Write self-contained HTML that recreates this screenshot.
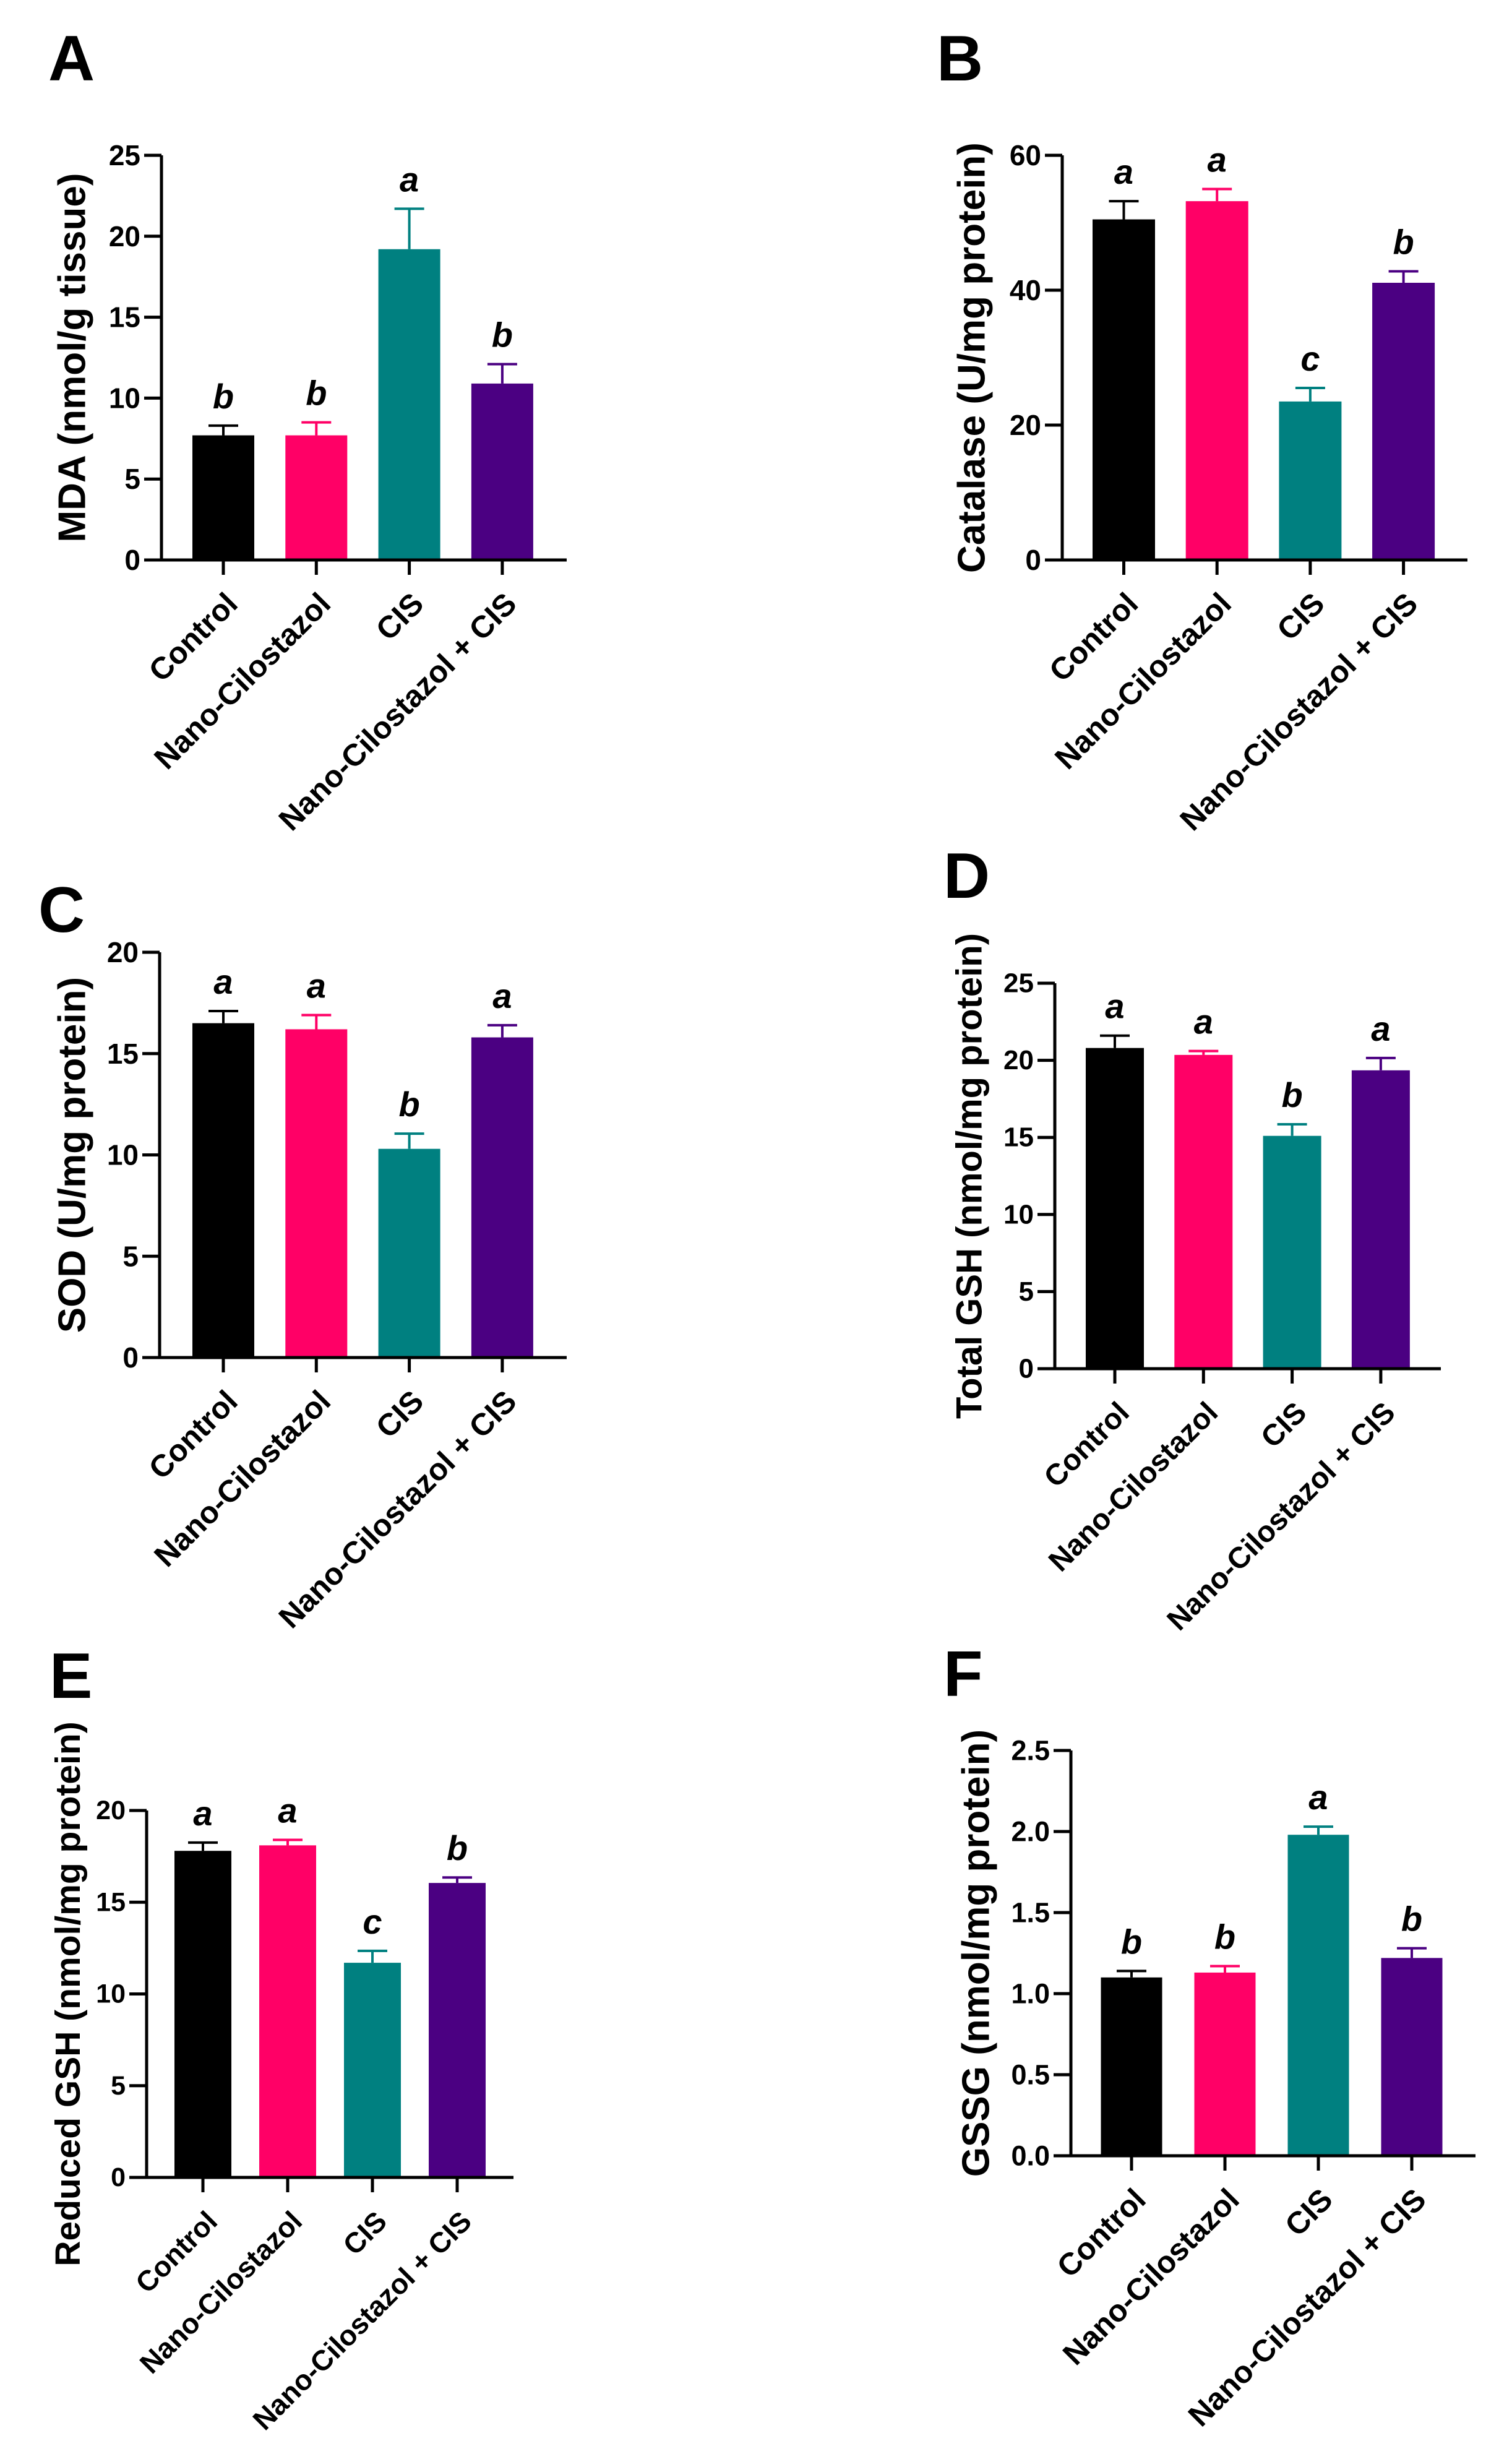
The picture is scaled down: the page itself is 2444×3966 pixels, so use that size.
<!DOCTYPE html>
<html><head><meta charset="utf-8"><style>
html,body{margin:0;padding:0;background:#fff;}
svg{display:block;font-family:"Liberation Sans",Arial,sans-serif;}
</style></head><body>
<svg id="fig" width="2444" height="3966" viewBox="0 0 2444 3966" xmlns="http://www.w3.org/2000/svg"></svg>
<script>
const categories = ["Control", "Nano-Cilostazol", "CIS", "Nano-Cilostazol + CIS"];
const colors = ["#000000", "#ff0066", "#008080", "#4b0082"];

const valuesA = [7.7, 7.7, 19.2, 10.9];
const errorsA = [0.6, 0.8, 2.5, 1.2];
const lettersA = ["b", "b", "a", "b"];
const ticksA = [0, 5, 10, 15, 20, 25];

const valuesB = [50.5, 53.2, 23.5, 41.1];
const errorsB = [2.7, 1.8, 2.0, 1.7];
const lettersB = ["a", "a", "c", "b"];
const ticksB = [0, 20, 40, 60];

const valuesC = [16.5, 16.2, 10.3, 15.8];
const errorsC = [0.6, 0.7, 0.75, 0.6];
const lettersC = ["a", "a", "b", "a"];
const ticksC = [0, 5, 10, 15, 20];

const valuesD = [20.8, 20.35, 15.1, 19.35];
const errorsD = [0.8, 0.25, 0.75, 0.8];
const lettersD = ["a", "a", "b", "a"];
const ticksD = [0, 5, 10, 15, 20, 25];

const valuesE = [17.8, 18.1, 11.7, 16.05];
const errorsE = [0.45, 0.3, 0.65, 0.3];
const lettersE = ["a", "a", "c", "b"];
const ticksE = [0, 5, 10, 15, 20];

const valuesF = [1.10, 1.13, 1.98, 1.22];
const errorsF = [0.04, 0.04, 0.05, 0.06];
const lettersF = ["b", "b", "a", "b"];
const ticksF = ["0.0", "0.5", "1.0", "1.5", "2.0", "2.5"];

const NS = "http://www.w3.org/2000/svg";
const svg = document.getElementById("fig");
function mk(tag, attrs, parent) {
  const e = document.createElementNS(NS, tag);
  for (const k in attrs) e.setAttribute(k, attrs[k]);
  (parent || svg).appendChild(e);
  return e;
}

const panels = [
  {id:"a", label:"A", title:"MDA (nmol/g tissue)", values:valuesA, errors:errorsA, letters:lettersA, ticks:ticksA,
   ax:261, yTop:251, y0:905, xEnd:916, off:100, step:150.3, bw:100, lx:78, ly:130, tx:117, tfs:62, tickFs:46, catFs:50},
  {id:"b", label:"B", title:"Catalase (U/mg protein)", values:valuesB, errors:errorsB, letters:lettersB, ticks:ticksB,
   ax:1717, yTop:251, y0:905, xEnd:2372, off:99.5, step:150.7, bw:101, lx:1514, ly:130, tx:1571, tfs:62, tickFs:46, catFs:50},
  {id:"c", label:"C", title:"SOD (U/mg protein)", values:valuesC, errors:errorsC, letters:lettersC, ticks:ticksC,
   ax:258, yTop:1539, y0:2194, xEnd:916, off:103, step:150.3, bw:100, lx:62, ly:1506, tx:117, tfs:62, tickFs:46, catFs:50},
  {id:"d", label:"D", title:"Total GSH (nmol/mg protein)", values:valuesD, errors:errorsD, letters:lettersD, ticks:ticksD,
   ax:1705, yTop:1589, y0:2212, xEnd:2329, off:97, step:143.3, bw:94, lx:1525, ly:1451, tx:1567, tfs:58, tickFs:44, catFs:48},
  {id:"e", label:"E", title:"Reduced GSH (nmol/mg protein)", values:valuesE, errors:errorsE, letters:lettersE, ticks:ticksE,
   ax:237, yTop:2926, y0:3519, xEnd:830, off:91, step:137, bw:92, lx:80, ly:2744, tx:110, tfs:57, tickFs:43, catFs:46},
  {id:"f", label:"F", title:"GSSG (nmol/mg protein)", values:valuesF, errors:errorsF, letters:lettersF, ticks:ticksF,
   ax:1731, yTop:2829, y0:3484, xEnd:2385, off:98, step:151, bw:99, lx:1525, ly:2741, tx:1578, tfs:62, tickFs:45, catFs:50}
];

panels.forEach(p => {
  const g = mk("g", {});
  
  
  const tmin = parseFloat(p.ticks[0]), tmax = parseFloat(p.ticks[p.ticks.length-1]);
  const y = v => p.y0 - (v - tmin) / (tmax - tmin) * (p.y0 - p.yTop);
  const xc = i => p.ax + p.off + i * p.step;

  const pl = mk("text", {x:p.lx, y:p.ly, "font-size":104, "font-weight":"bold", fill:"#000"}, g);
  pl.textContent = p.label;
  
  

  p.values.forEach((v, i) => {
    const r = mk("rect", {x:xc(i)-p.bw/2, y:y(v), width:p.bw, height:p.y0-y(v), fill:colors[i]}, g);
    
    
    const top = y(v + p.errors[i]);
    const eb = mk("path", {d:`M${xc(i)},${y(v)} V${top} M${xc(i)-24},${top} H${xc(i)+24}`, stroke:colors[i], "stroke-width":4, fill:"none"}, g);
    
    
    const lt = mk("text", {x:xc(i), y:top-28, "font-size":56, "font-weight":"bold", "font-style":"italic", "text-anchor":"middle", fill:"#000"}, g);
    lt.textContent = p.letters[i];
    
    
    const tk = mk("line", {x1:xc(i), x2:xc(i), y1:p.y0, y2:p.y0+24, stroke:"#000", "stroke-width":5}, g);
    
    
    const cl = mk("text", {x:0, y:0, transform:`translate(${xc(i)+26},${p.y0+74}) rotate(-45)`, "font-size":p.catFs, "font-weight":"bold", "text-anchor":"end", fill:"#000"}, g);
    cl.textContent = categories[i];
    
    
  });

  const axes = mk("path", {d:`M${p.ax},${p.yTop} V${p.y0} M${p.ax-28},${p.y0} H${p.xEnd}`, stroke:"#000", "stroke-width":5, fill:"none"}, g);
  
  
  p.ticks.forEach(t => {
    const ty = y(parseFloat(t));
    const tl = mk("line", {x1:p.ax-28, x2:p.ax, y1:ty, y2:ty, stroke:"#000", "stroke-width":5}, g);
    
    
    const tt = mk("text", {x:p.ax-34, y:ty, "font-size":p.tickFs, "font-weight":"bold", "text-anchor":"end", "dominant-baseline":"central", fill:"#000"}, g);
    tt.textContent = String(t);
    
    
  });
  const yt = mk("text", {x:0, y:0, transform:`translate(${p.tx},${(p.yTop+p.y0)/2}) rotate(-90)`, "font-size":p.tfs, "font-weight":"bold", "text-anchor":"middle", "dominant-baseline":"central", fill:"#000"}, g);
  yt.textContent = p.title;
  
  
});
</script>
</body></html>
